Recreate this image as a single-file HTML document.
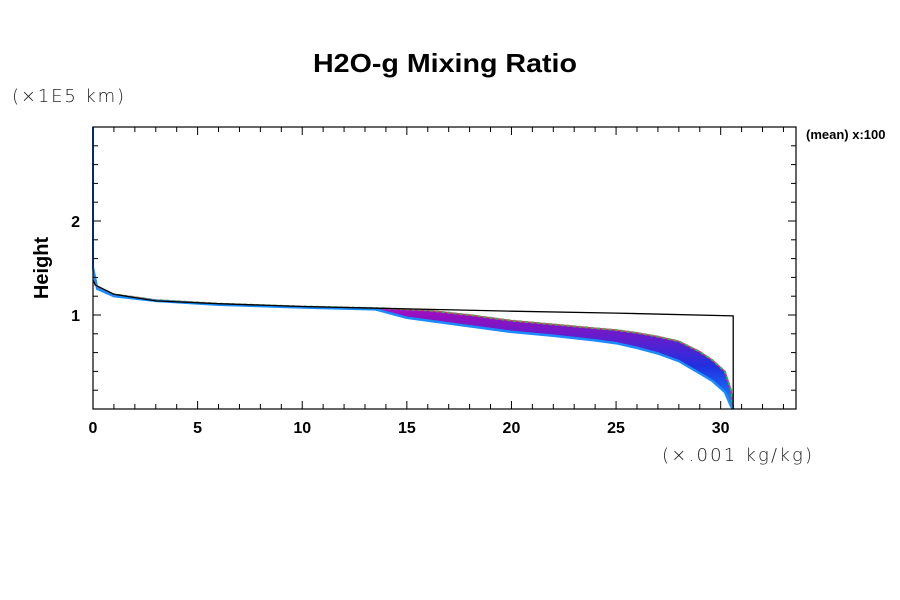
<!DOCTYPE html>
<html><head><meta charset="utf-8">
<style>
html,body{margin:0;padding:0;background:#fff;width:900px;height:600px;overflow:hidden}
svg{display:block}
text{font-family:"Liberation Sans",Arial,sans-serif}
</style></head>
<body>
<svg id="chart" width="900" height="600" viewBox="0 0 900 600">
  <text x="445" y="72" text-anchor="middle" font-size="26" font-weight="bold" textLength="264" lengthAdjust="spacingAndGlyphs">H2O-g Mixing Ratio</text>
  <text x="12" y="102" font-size="18" fill="#222" textLength="112" lengthAdjust="spacing" style="font-family:'DejaVu Sans',sans-serif;font-weight:200">(×1E5 km)</text>
  <text x="662" y="461" font-size="18" fill="#222" textLength="150" lengthAdjust="spacing" style="font-family:'DejaVu Sans',sans-serif;font-weight:200">(×.001 kg/kg)</text>
  <text x="48" y="268" font-size="20" font-weight="bold" text-anchor="middle" transform="rotate(-90 48 268)">Height</text>
  <text x="806" y="139" font-size="13" font-weight="bold">(mean) x:100</text>
  <defs>
    <linearGradient id="bandGrad" x1="0" y1="0" x2="0" y2="1">
      <stop offset="0" stop-color="#ff10e0"/>
      <stop offset="0.35" stop-color="#9010c0"/>
      <stop offset="0.7" stop-color="#2030e0"/>
      <stop offset="1" stop-color="#1a8cff"/>
    </linearGradient>
  </defs>
  <g id="plot"></g>
</svg>
<script>
const xTicks = [0, 5, 10, 15, 20, 25, 30];
const yTicks = [1, 2];
const upperX = [0, 0.2, 1, 3, 6, 10, 14, 15, 16, 18, 20, 22, 24, 25, 26, 27, 28, 29, 29.6, 30.2, 30.5, 30.6];
const upperH = [1.5, 1.3, 1.22, 1.16, 1.12, 1.09, 1.07, 1.06, 1.05, 1.0, 0.94, 0.9, 0.86, 0.84, 0.81, 0.77, 0.72, 0.61, 0.52, 0.4, 0.2, 0];
const lowerX = [0, 0.2, 1, 3, 6, 10, 13.5, 14.5, 15, 18, 20, 22, 24, 25, 26, 27, 28, 29, 29.6, 30.2, 30.5, 30.6];
const lowerH = [1.5, 1.28, 1.2, 1.15, 1.11, 1.08, 1.06, 1.0, 0.97, 0.88, 0.82, 0.78, 0.73, 0.7, 0.65, 0.59, 0.51, 0.38, 0.3, 0.18, 0.03, 0];
const meanX = [0, 0.1, 1, 3, 6, 10, 14, 20, 25, 30.6, 30.6];
const meanH = [1.38, 1.32, 1.22, 1.15, 1.12, 1.09, 1.07, 1.04, 1.02, 0.99, 0];

const L = 93, R = 796, T = 127, B = 409;
const xMax = 33.6, yMax = 3.0;
const sx = v => L + v / xMax * (R - L);
const sy = v => B - v / yMax * (B - T);
const NS = 'http://www.w3.org/2000/svg';
const g = document.getElementById('plot');
function mk(tag, attrs) {
  const e = document.createElementNS(NS, tag);
  for (const k in attrs) e.setAttribute(k, attrs[k]);
  g.appendChild(e);
  return e;
}
function pts(xs, hs) { return xs.map((x, i) => sx(x).toFixed(1) + ',' + sy(hs[i]).toFixed(1)).join(' '); }

const band = mk('polygon', {points: pts(upperX, upperH) + ' ' + pts(lowerX.slice().reverse(), lowerH.slice().reverse()), fill: 'url(#bandGrad)', stroke: 'none'});



const up = mk('polyline', {points: pts(upperX, upperH), fill: 'none', stroke: '#20c040', 'stroke-width': 2, 'stroke-dasharray': '3 3'});


const up2 = mk('polyline', {points: pts(upperX, upperH), fill: 'none', stroke: '#ff2080', 'stroke-width': 1.5, 'stroke-dasharray': '3 3', 'stroke-dashoffset': '3'});


const lo = mk('polyline', {points: pts(lowerX, lowerH), fill: 'none', stroke: '#1a8cff', 'stroke-width': 2.5});



const mean = mk('polyline', {points: pts(meanX, meanH), fill: 'none', stroke: '#000', 'stroke-width': 1.3});



const vline = mk('line', {x1: sx(0), y1: sy(yMax), x2: sx(0), y2: sy(1.5), stroke: '#1070ff', 'stroke-width': 2});



const frame = mk('rect', {x: L, y: T, width: R - L, height: B - T, fill: 'none', stroke: '#000', 'stroke-width': 1.2});



for (let v = 1; v < xMax; v++) {
  const major = v % 5 === 0;
  const len = major ? 8 : 5;
  const t1 = mk('line', {x1: sx(v), y1: B, x2: sx(v), y2: B - len, stroke: '#000', 'stroke-width': 1});
  
  
  const t2 = mk('line', {x1: sx(v), y1: T, x2: sx(v), y2: T + len, stroke: '#000', 'stroke-width': 1});
  
  
}
xTicks.forEach(v => {
  const t = mk('text', {x: sx(v), y: B + 24, 'text-anchor': 'middle', 'font-size': 16, 'font-weight': 'bold'});
  t.textContent = v;
  
  
});
for (let i = 1; i < 15; i++) {
  const v = i * 0.2;
  const major = i % 5 === 0;
  const len = major ? 8 : 5;
  const t1 = mk('line', {x1: L, y1: sy(v), x2: L + len, y2: sy(v), stroke: '#000', 'stroke-width': 1});
  
  
  const t2 = mk('line', {x1: R, y1: sy(v), x2: R - len, y2: sy(v), stroke: '#000', 'stroke-width': 1});
  
  
}
yTicks.forEach(v => {
  const t = mk('text', {x: 80, y: sy(v) + 6, 'text-anchor': 'end', 'font-size': 16, 'font-weight': 'bold'});
  t.textContent = v;
  
  
});
</script>
</body></html>
